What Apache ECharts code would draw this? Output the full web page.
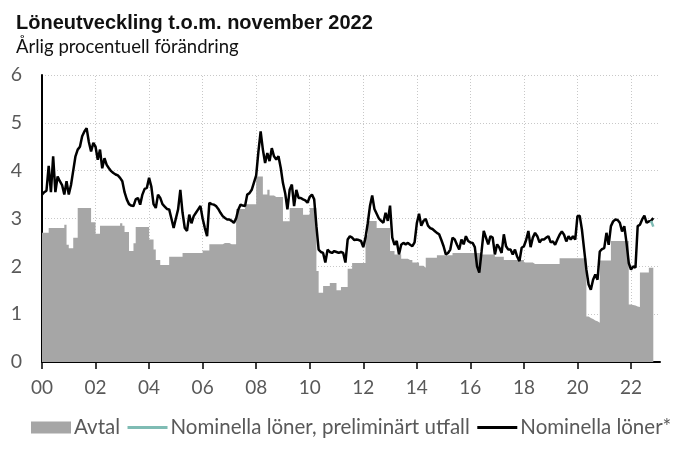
<!DOCTYPE html>
<html lang="sv">
<head>
  <meta charset="UTF-8">
  <title>Löneutveckling</title>
  <style>
    body { margin: 0; background: #fff; }
  </style>
</head>
<body>
  <div id="main" style="width:680px;height:460px"></div>
  <script src="https://cdn.jsdelivr.net/npm/echarts@6/dist/echarts.min.js"></script>
  <script>
    // månadsdata jan 2000 - nov 2022, årlig procentuell förändring
    var avtal = [
      2.7,2.7,2.7,2.8,2.8,2.8,2.8,2.8,2.8,2.8,2.87,2.45,
      2.38,2.38,2.6,2.6,3.22,3.22,3.22,3.22,3.22,3.22,2.92,2.92,
      2.68,2.68,2.85,2.85,2.85,2.85,2.85,2.85,2.85,2.85,2.85,2.9,
      2.85,2.72,2.72,2.32,2.32,2.48,2.82,2.82,2.82,2.82,2.82,2.82,
      2.56,2.56,2.35,2.13,2.13,2.03,2.03,2.03,2.03,2.2,2.2,2.2,
      2.2,2.2,2.2,2.28,2.28,2.28,2.28,2.28,2.28,2.28,2.28,2.28,
      2.33,2.33,2.33,2.46,2.46,2.46,2.46,2.46,2.46,2.49,2.49,2.49,
      2.46,2.46,2.46,3.2,3.2,3.2,3.2,3.3,3.3,3.3,3.3,3.3,
      3.88,3.88,3.88,3.5,3.5,3.6,3.48,3.48,3.45,3.45,3.45,3.45,
      2.94,2.94,2.94,3.22,3.22,3.22,3.22,3.22,3.22,3.08,3.08,3.08,
      3.22,3.22,3.22,1.9,1.45,1.45,1.59,1.59,1.59,1.65,1.65,1.65,
      1.5,1.5,1.57,1.57,1.57,1.95,1.95,2.07,2.07,2.07,2.07,2.07,
      2.07,2.65,2.95,2.95,2.95,2.95,2.8,2.8,2.8,2.8,2.8,2.8,
      2.32,2.32,2.25,2.25,2.25,2.16,2.16,2.16,2.13,2.13,2.08,2.08,
      2.08,2.01,2.01,1.97,2.18,2.18,2.18,2.18,2.18,2.23,2.23,2.23,
      2.23,2.23,2.23,2.23,2.28,2.28,2.28,2.28,2.28,2.28,2.28,2.28,
      2.28,2.28,2.28,2.28,2.25,2.25,2.25,2.25,2.25,2.25,2.25,2.2,
      2.2,2.2,2.2,2.13,2.13,2.13,2.13,2.13,2.13,2.13,2.13,2.13,
      2.08,2.08,2.08,2.08,2.05,2.05,2.05,2.05,2.05,2.05,2.05,2.05,
      2.05,2.05,2.05,2.05,2.17,2.17,2.17,2.17,2.17,2.17,2.17,2.17,
      2.17,2.17,2.17,2.17,0.95,0.92,0.9,0.87,0.85,0.82,2.12,2.12,
      2.12,2.12,2.12,2.53,2.53,2.53,2.53,2.53,2.53,2.53,2.53,1.2,
      1.19,1.18,1.16,1.15,1.87,1.87,1.87,1.87,1.97,1.97,1.97
    ];
    var nominella = [
      3.5,3.55,3.58,4.1,3.55,4.3,3.55,3.88,3.78,3.7,3.5,3.78,
      3.5,3.7,4.0,4.3,4.44,4.5,4.72,4.82,4.89,4.6,4.4,4.58,
      4.5,4.23,4.44,4.05,4.26,4.12,4.05,3.99,3.95,3.92,3.9,3.85,
      3.78,3.55,3.4,3.3,3.27,3.26,3.4,3.43,3.29,3.5,3.62,3.64,
      3.85,3.67,3.3,3.22,3.5,3.43,3.3,3.25,3.2,3.19,3.0,2.8,
      3.0,3.19,3.6,3.12,2.8,2.74,3.08,2.9,3.05,3.12,3.19,3.26,
      3.0,2.8,2.63,3.33,3.3,3.29,3.26,3.2,3.12,3.05,3.01,2.98,
      2.98,2.95,2.91,3.0,3.19,3.29,3.27,3.26,3.5,3.53,3.6,3.75,
      3.9,4.4,4.82,4.44,4.16,4.37,4.2,4.47,4.3,4.23,4.3,4.06,
      3.74,3.53,3.19,3.6,3.71,3.26,3.6,3.43,3.43,3.4,3.38,3.33,
      3.45,3.5,3.4,2.84,2.35,2.3,2.28,2.08,2.35,2.3,2.28,2.32,
      2.3,2.28,2.3,2.28,2.08,2.56,2.63,2.6,2.55,2.56,2.55,2.53,
      2.4,2.6,2.9,3.26,3.48,3.2,3.1,3.0,2.95,2.91,3.12,2.95,
      3.27,2.6,2.45,2.53,2.25,2.45,2.49,2.46,2.49,2.45,2.42,2.5,
      2.9,3.1,2.85,2.95,2.99,2.85,2.8,2.78,2.74,2.7,2.67,2.55,
      2.42,2.25,2.28,2.35,2.6,2.56,2.45,2.35,2.56,2.46,2.63,2.53,
      2.5,2.49,2.4,2.0,1.87,2.3,2.74,2.6,2.46,2.63,2.6,2.25,
      2.46,2.39,2.28,2.67,2.42,2.35,2.35,2.25,2.35,2.2,2.11,2.39,
      2.42,2.55,2.74,2.4,2.6,2.7,2.63,2.5,2.56,2.56,2.6,2.63,
      2.5,2.52,2.45,2.56,2.66,2.73,2.66,2.52,2.63,2.56,2.63,2.56,
      3.05,3.06,2.77,2.35,1.93,1.62,1.51,1.72,1.83,1.72,2.31,2.36,
      2.38,2.7,2.45,2.84,2.94,2.98,2.97,2.91,2.73,2.84,2.49,2.07,
      1.93,2.0,1.97,2.84,2.87,2.98,3.06,2.91,2.94,2.95,3.01
    ];
    // preliminärt utfall, bara de sista månaderna
    var prelimStart = 273;
    var preliminar = [2.95, 2.83];

    var yearTicks = [0, 24, 48, 72, 96, 120, 144, 168, 192, 216, 240, 264];

    function toPairs(arr, start) {
      return arr.map(function (v, i) { return [start + i, v]; });
    }

    var myChart = echarts.init(document.getElementById('main'));

    var gray = '#a6a6a6';
    var txt = '#595959';
    var dotted = { color: '#c8c8c8', width: 1, type: [1, 2] };

    var option = {
      animation: false,
      title: [{
        text: 'Löneutveckling t.o.m. november 2022',
        left: 16, top: 13, padding: 0,
        textStyle: { fontFamily: 'Liberation Sans', fontWeight: 'bold', fontSize: 20, color: '#111' }
      }, {
        text: 'Årlig procentuell förändring',
        left: 16, top: 38, padding: 0,
        textStyle: { fontFamily: 'Lato', fontWeight: 'normal', fontSize: 18.5, color: '#111' }
      }],
      legend: {
        left: 26, top: 412,
        itemWidth: 40, itemHeight: 12, itemGap: 6,
        textStyle: { fontFamily: 'Lato', fontSize: 20.5, color: txt, padding: [0, 0, 0, -2] },
        data: [
          { name: 'Avtal', icon: 'rect' },
          // bara linjen i förklaringen, ingen punkt
          { name: 'Nominella löner, preliminärt utfall', itemStyle: { opacity: 0 }, lineStyle: { width: 3 } },
          { name: 'Nominella löner*', itemStyle: { opacity: 0 }, lineStyle: { width: 3 } }
        ]
      },
      grid: { left: 42, right: 20, top: 75, bottom: 98 },
      xAxis: {
        type: 'value',
        min: 0, max: 277,
        axisLine: { lineStyle: { color: '#000', width: 2 } },
        axisTick: { show: true, length: 7, customValues: yearTicks, lineStyle: { color: '#000', width: 1.5 } },
        axisLabel: {
          customValues: yearTicks,
          margin: 16,
          fontFamily: 'Lato', fontSize: 19, color: txt,
          formatter: function (v) {
            var y = Math.round(v / 12);
            return (y < 10 ? '0' : '') + y;
          }
        },
        splitLine: { show: false }
      },
      yAxis: {
        type: 'value',
        min: 0, max: 6, interval: 1,
        axisLine: { show: true, lineStyle: { color: '#000', width: 2 } },
        axisTick: { show: false },
        axisLabel: { margin: 20, fontFamily: 'Lato', fontSize: 19.5, color: txt },
        splitLine: { lineStyle: dotted }
      },
      series: [
        {
          name: 'Avtal',
          type: 'line',
          step: 'end',
          symbol: 'none',
          z: 2,
          data: toPairs(avtal, 0),
          lineStyle: { width: 0, color: gray },
          itemStyle: { color: gray },
          areaStyle: { color: gray, opacity: 1 },
          // lodräta stödlinjer vartannat år
          markLine: {
            silent: true,
            symbol: 'none',
            z: 1,
            label: { show: false },
            lineStyle: dotted,
            data: yearTicks.slice(1).map(function (t) { return { xAxis: t }; })
          }
        },
        {
          name: 'Nominella löner, preliminärt utfall',
          type: 'line',
          symbol: 'none',
          z: 4,
          data: toPairs(preliminar, prelimStart),
          lineStyle: { width: 2.5, color: '#7fbcb4' },
          itemStyle: { color: '#7fbcb4' }
        },
        {
          name: 'Nominella löner*',
          type: 'line',
          symbol: 'none',
          z: 3,
          data: toPairs(nominella, 0),
          lineStyle: { width: 2.5, color: '#000' },
          itemStyle: { color: '#000' }
        }
      ]
    };

    myChart.setOption(option);
  </script>
</body>
</html>
